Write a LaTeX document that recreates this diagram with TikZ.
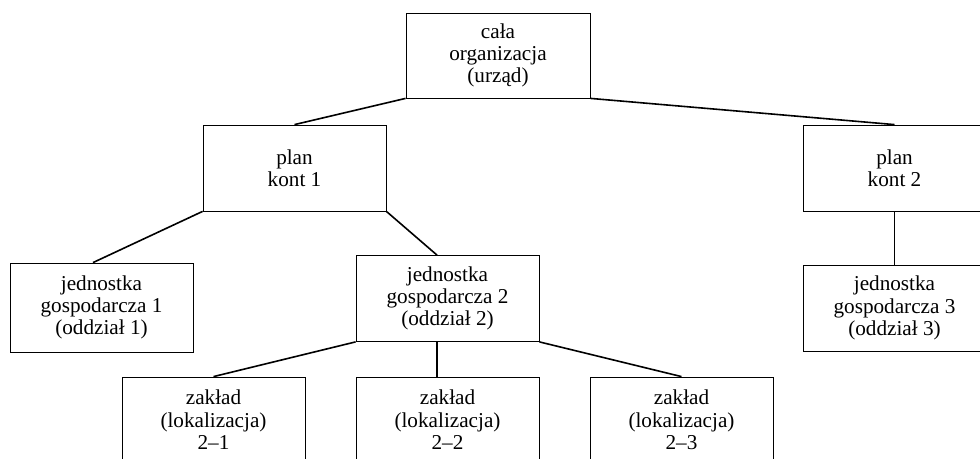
\documentclass[tikz,border=0pt]{standalone}
\usepackage{fontspec}
\setmainfont{Liberation Serif}
\usepackage{tikz}
\usetikzlibrary{positioning}
\tikzstyle{unit} = [rectangle, minimum width=91.5pt, minimum height=43pt, inner sep=0pt, text centered, align=center, draw=black, font=\fontsize{10.6pt}{11.2pt}\selectfont]
\tikzstyle{link} = [line width=0.8pt]

\begin{document}
\begin{tikzpicture}[x=0.5pt, y=-0.5pt]
    \clip (0,0) rectangle (980,459);
    \useasboundingbox (0,0) rectangle (980,459);

        % Nodes
        \node (org) [unit, minimum width=92pt, minimum height=42.5pt] at (498,55.5) {cała\\organizacja\\(urząd)};
        \node (kont1) [unit] at (294.5,168) {plan\\kont 1};
        \node (kont2) [unit] at (894.5,168) {plan\\kont 2};
        \node (jedn1) [unit, minimum height=44.5pt] at (101.5,307.5) {jednostka\\gospodarcza 1\\(oddział 1)};
        \node (jedn2) [unit] at (447.5,298.5) {jednostka\\gospodarcza 2\\(oddział 2)};
        \node (jedn3) [unit] at (894.5,308) {jednostka\\gospodarcza 3\\(oddział 3)};
        \node (zaklad1) [unit] at (213.5,420) {zakład\\(lokalizacja)\\2–1};
        \node (zaklad2) [unit] at (447.5,420) {zakład\\(lokalizacja)\\2–2};
        \node (zaklad3) [unit] at (681.5,420) {zakład\\(lokalizacja)\\2–3};

        % Lines
        \draw [link] (org.south west) -- (kont1.north);
        \draw [link] (org.south east) -- (kont2.north);
        \draw [link] (kont1.south west) -- ([xshift=-4.25pt]jedn1.north);
        \draw [link] (kont1.south east) -- ([xshift=-5.25pt]jedn2.north);
        \draw [link] (kont2.south) -- (jedn3.north);
        \draw [link] (jedn2.south west) -- (zaklad1.north);
        \draw [link] ([xshift=-5.25pt]jedn2.south) -- ([xshift=-5.25pt]zaklad2.north);
        \draw [link] (jedn2.south east) -- (zaklad3.north);

    \end{tikzpicture}
\end{document}
